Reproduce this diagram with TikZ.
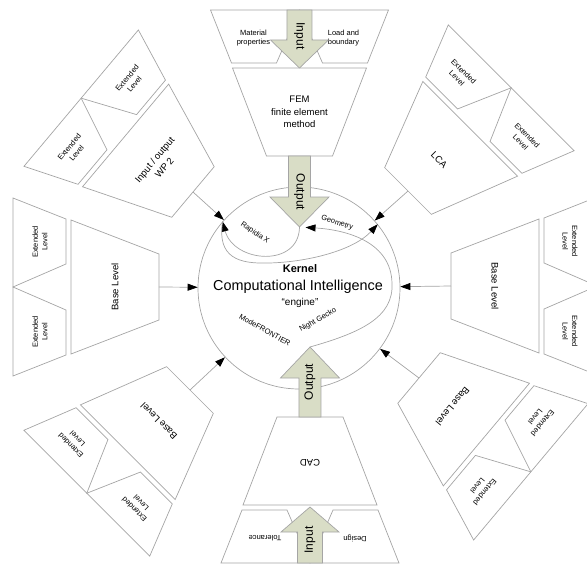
\documentclass[tikz,border=0pt]{standalone}
\usepackage{fontspec}
\setmainfont{Liberation Sans}
\usetikzlibrary{arrows.meta}
\definecolor{linegray}{RGB}{165,165,165}
\definecolor{arrowfill}{RGB}{217,221,198}

\begin{document}
\begin{tikzpicture}[x=1pt, y=1pt,
    part/.style={draw=linegray, line width=0.7pt, fill=white},
    blockarrow/.style={draw=linegray, line width=0.7pt, fill=arrowfill},
    smalltext/.style={font=\fontsize{7.5}{9.5}\selectfont, align=center, transform shape},
    midtext/.style={font=\fontsize{9.5}{12.5}\selectfont, align=center, transform shape},
    arrowtext/.style={font=\fontsize{12}{14}\selectfont, rotate=-90, transform shape},
    flowlabel/.style={font=\fontsize{7.5}{9}\selectfont, inner sep=1pt},
    conn/.style={draw=linegray, line width=0.7pt, -{Triangle[length=10pt, width=7pt, color=black]}}]
    \useasboundingbox (-299,-275) rectangle (288,288);

    % kernel in the middle
    \node[draw=linegray, line width=0.7pt, circle, minimum size=202pt, inner sep=0pt] (kernel) at (0,0) {};
    \node[font=\bfseries\fontsize{11}{13}\selectfont] (kernel-title) at (1,19) {Kernel};
    \node[font=\fontsize{14.4}{17}\selectfont] (kernel-name) at (-1,1) {Computational Intelligence};
    \node[font=\fontsize{10}{12}\selectfont] (kernel-engine) at (1,-15) {``engine''};

    % arms with base and extended levels
    \foreach \name/\px/\py/\ang/\txt in {al/-140/1/180/{Base Level}, ar/152/2/0/{Base Level},
        atl/-106/96/140/{Input / output\\WP 2}, atr/109/97/45/{LCA},
        abl/-109/-102/225/{Base Level}, abr/120/-90/320/{Base Level}}{
        \begin{scope}[shift={(\px,\py)}, rotate=\ang-90]
            \draw[part] (-33,0) -- (33,0) -- (67,88) -- (-67,88) -- cycle;
            \node[midtext] (\name-base) at (0,44) {\txt};
            \draw[part] (-23,93) -- (-68,93) -- (-89,146) -- (0,146) -- cycle;
            \draw[part] (23,93) -- (68,93) -- (89,146) -- (0,146) -- cycle;
            \node[smalltext] (\name-ext1) at (-45,119) {Extended\\Level};
            \node[smalltext] (\name-ext2) at (45,119) {Extended\\Level};
            \coordinate (\name) at (0,0);
        \end{scope}
        \draw[conn] (\name) -- (kernel);
    }

    % FEM arm
    \begin{scope}[shift={(0.5,132)}]
        \draw[part] (-33,0) -- (33,0) -- (67,88) -- (-67,88) -- cycle;
        \node[midtext] (fem) at (0,44) {FEM\\finite element\\method};
        \draw[part] (-23,93) -- (-68,93) -- (-89,146) -- (0,146) -- cycle;
        \draw[part] (23,93) -- (68,93) -- (89,146) -- (0,146) -- cycle;
        \node[smalltext] (fem-mat) at (-46,118) {Material\\properties};
        \node[smalltext] (fem-load) at (44,118) {Load and\\boundary};
        \draw[blockarrow] (-12.5,146) -- (-12.5,116) -- (-29,116) -- (0,88) -- (29,116) -- (12.5,116) -- (12.5,146) -- cycle;
        \node[arrowtext] (fem-in) at (0,120) {Input};
        \draw[blockarrow] (-11,0) -- (-11,-41) -- (-29.5,-41) -- (0,-71) -- (29.5,-41) -- (11,-41) -- (11,0) -- cycle;
        \node[arrowtext] (fem-outtext) at (0,-36) {Output};
        \coordinate (fem-out) at (0,-71);
    \end{scope}

    % CAD arm
    \begin{scope}[shift={(11,-129)}, rotate=180]
        \draw[part] (-33,0) -- (33,0) -- (67,88) -- (-67,88) -- cycle;
        \node[midtext] (cad) at (0,46) {CAD};
        \draw[part] (-23,93) -- (-68,93) -- (-89,146) -- (0,146) -- cycle;
        \draw[part] (23,93) -- (68,93) -- (89,146) -- (0,146) -- cycle;
        \node[smalltext] (cad-design) at (-45,121) {Design};
        \node[smalltext] (cad-tol) at (45,121) {Tolerance};
        \draw[blockarrow] (-12.5,146) -- (-12.5,115) -- (-29,115) -- (0,90) -- (29,115) -- (12.5,115) -- (12.5,146) -- cycle;
        \node[arrowtext] (cad-in) at (0,123) {Input};
        \draw[blockarrow] (-11,0) -- (-11,-39) -- (-29.5,-39) -- (0,-70) -- (29.5,-39) -- (11,-39) -- (11,0) -- cycle;
        \node[arrowtext] (cad-outtext) at (0,-35) {Output};
        \coordinate (cad-out) at (0,-70);
    \end{scope}

    % flows inside the kernel
    \draw[conn] (fem-out) .. controls (0,20) and (-65,25) .. (kernel.139);
    \draw[conn] (kernel.139) .. controls (-82,30) and (-60,24) .. (-30,25) .. controls (10,26) and (55,38) .. (kernel.39);
    \draw[conn, shorten >=6pt] (cad-out) .. controls (60,-45) and (95,-30) .. (93,5) .. controls (92,45) and (50,58) .. (fem-out);
    \node[flowlabel, rotate=-34] (rapidia) at (-44,55) {Rapidia X};
    \node[flowlabel, rotate=-18] (geometry) at (38,65) {Geometry};
    \node[flowlabel, rotate=-29] (modefrontier) at (-34,-42) {ModeFRONTIER};
    \node[flowlabel, rotate=30] (nightgecko) at (19,-32) {Night Gecko};
\end{tikzpicture}
\end{document}
